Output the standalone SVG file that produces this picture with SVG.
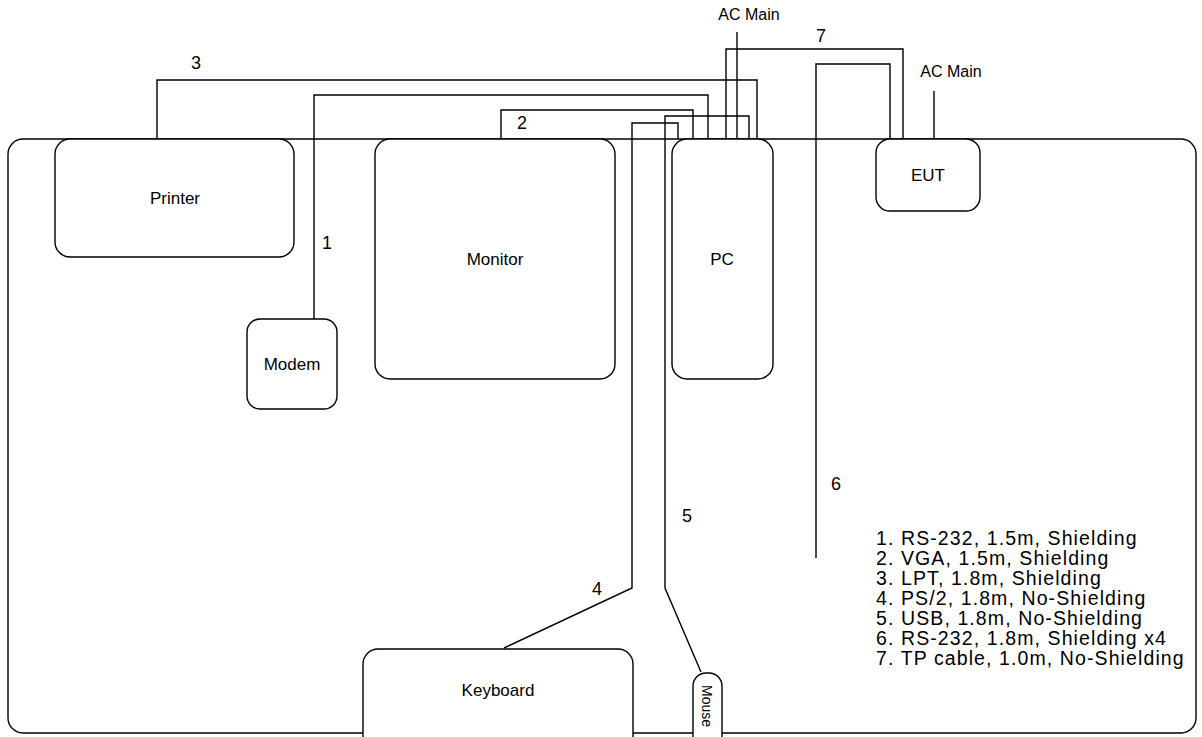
<svg xmlns="http://www.w3.org/2000/svg" width="1202" height="737" viewBox="0 0 1202 737">
<style>
.box{fill:#fff;stroke:#000;stroke-width:1.4}
.w{fill:none;stroke:#000;stroke-width:1.4}
text{font-family:"Liberation Sans",Arial,sans-serif;fill:#000}
.lbl{font-size:17px;text-anchor:middle}
.num{font-size:18px;text-anchor:middle}
.ac{font-size:16px;text-anchor:middle}
.leg{font-size:19.5px;letter-spacing:1.1px}
</style>
<rect width="1202" height="737" fill="#fff"/>
<g id="table"><rect class="box" x="8" y="139" width="1188" height="594" rx="15"/></g>
<g id="connectors">
<polyline class="w" points="314,319 314,95 708,95 708,139"/>
<polyline class="w" points="501,139 501,110 693,110 693,139"/>
<polyline class="w" points="157,139 157,80 757,80 757,139"/>
<polyline class="w" points="504,648 632,588 632,123 678,123 678,139"/>
<polyline class="w" points="701,672 665,588 665,116 749,116 749,139"/>
<polyline class="w" points="816,558 816,64 890,64 890,139"/>
<polyline class="w" points="726,139 726,49 903,49 903,139"/>
<line class="w" x1="737" y1="32" x2="737" y2="139"/>
<line class="w" x1="934" y1="91" x2="934" y2="139"/>
</g>
<g id="printer"><rect class="box" x="55" y="139" width="239" height="118" rx="15"/><text class="lbl" x="175" y="204">Printer</text></g>
<g id="monitor"><rect class="box" x="375" y="139" width="240" height="240" rx="15"/><text class="lbl" x="495" y="265">Monitor</text></g>
<g id="pc"><rect class="box" x="672" y="139" width="101" height="240" rx="15"/><text class="lbl" x="722" y="265">PC</text></g>
<g id="modem"><rect class="box" x="247" y="319" width="90" height="90" rx="13"/><text class="lbl" x="292" y="370">Modem</text></g>
<g id="eut"><rect class="box" x="876" y="139" width="104" height="72" rx="14"/><text class="lbl" x="928" y="181">EUT</text></g>
<g id="keyboard"><rect class="box" x="363" y="649" width="270" height="110" rx="15"/><text class="lbl" x="498" y="696">Keyboard</text></g>
<g id="mouse"><rect class="box" x="693" y="673" width="29" height="90" rx="13"/><text x="707" y="706" font-size="14" text-anchor="middle" transform="rotate(90 707 706)" dy="5">Mouse</text></g>
<g id="labels">
<text class="ac" x="749" y="20">AC Main</text>
<text class="ac" x="951" y="77">AC Main</text>
<text class="num" x="327" y="249">1</text>
<text class="num" x="522" y="129">2</text>
<text class="num" x="196" y="69">3</text>
<text class="num" x="597" y="595">4</text>
<text class="num" x="687" y="522">5</text>
<text class="num" x="836" y="490">6</text>
<text class="num" x="821" y="42">7</text>
</g>
<g id="legend" class="leg">
<text x="876" y="545">1. RS-232, 1.5m, Shielding</text>
<text x="876" y="565">2. VGA, 1.5m, Shielding</text>
<text x="876" y="585">3. LPT, 1.8m, Shielding</text>
<text x="876" y="605">4. PS/2, 1.8m, No-Shielding</text>
<text x="876" y="625">5. USB, 1.8m, No-Shielding</text>
<text x="876" y="645">6. RS-232, 1.8m, Shielding x4</text>
<text x="876" y="665">7. TP cable, 1.0m, No-Shielding</text>
</g>
</svg>
